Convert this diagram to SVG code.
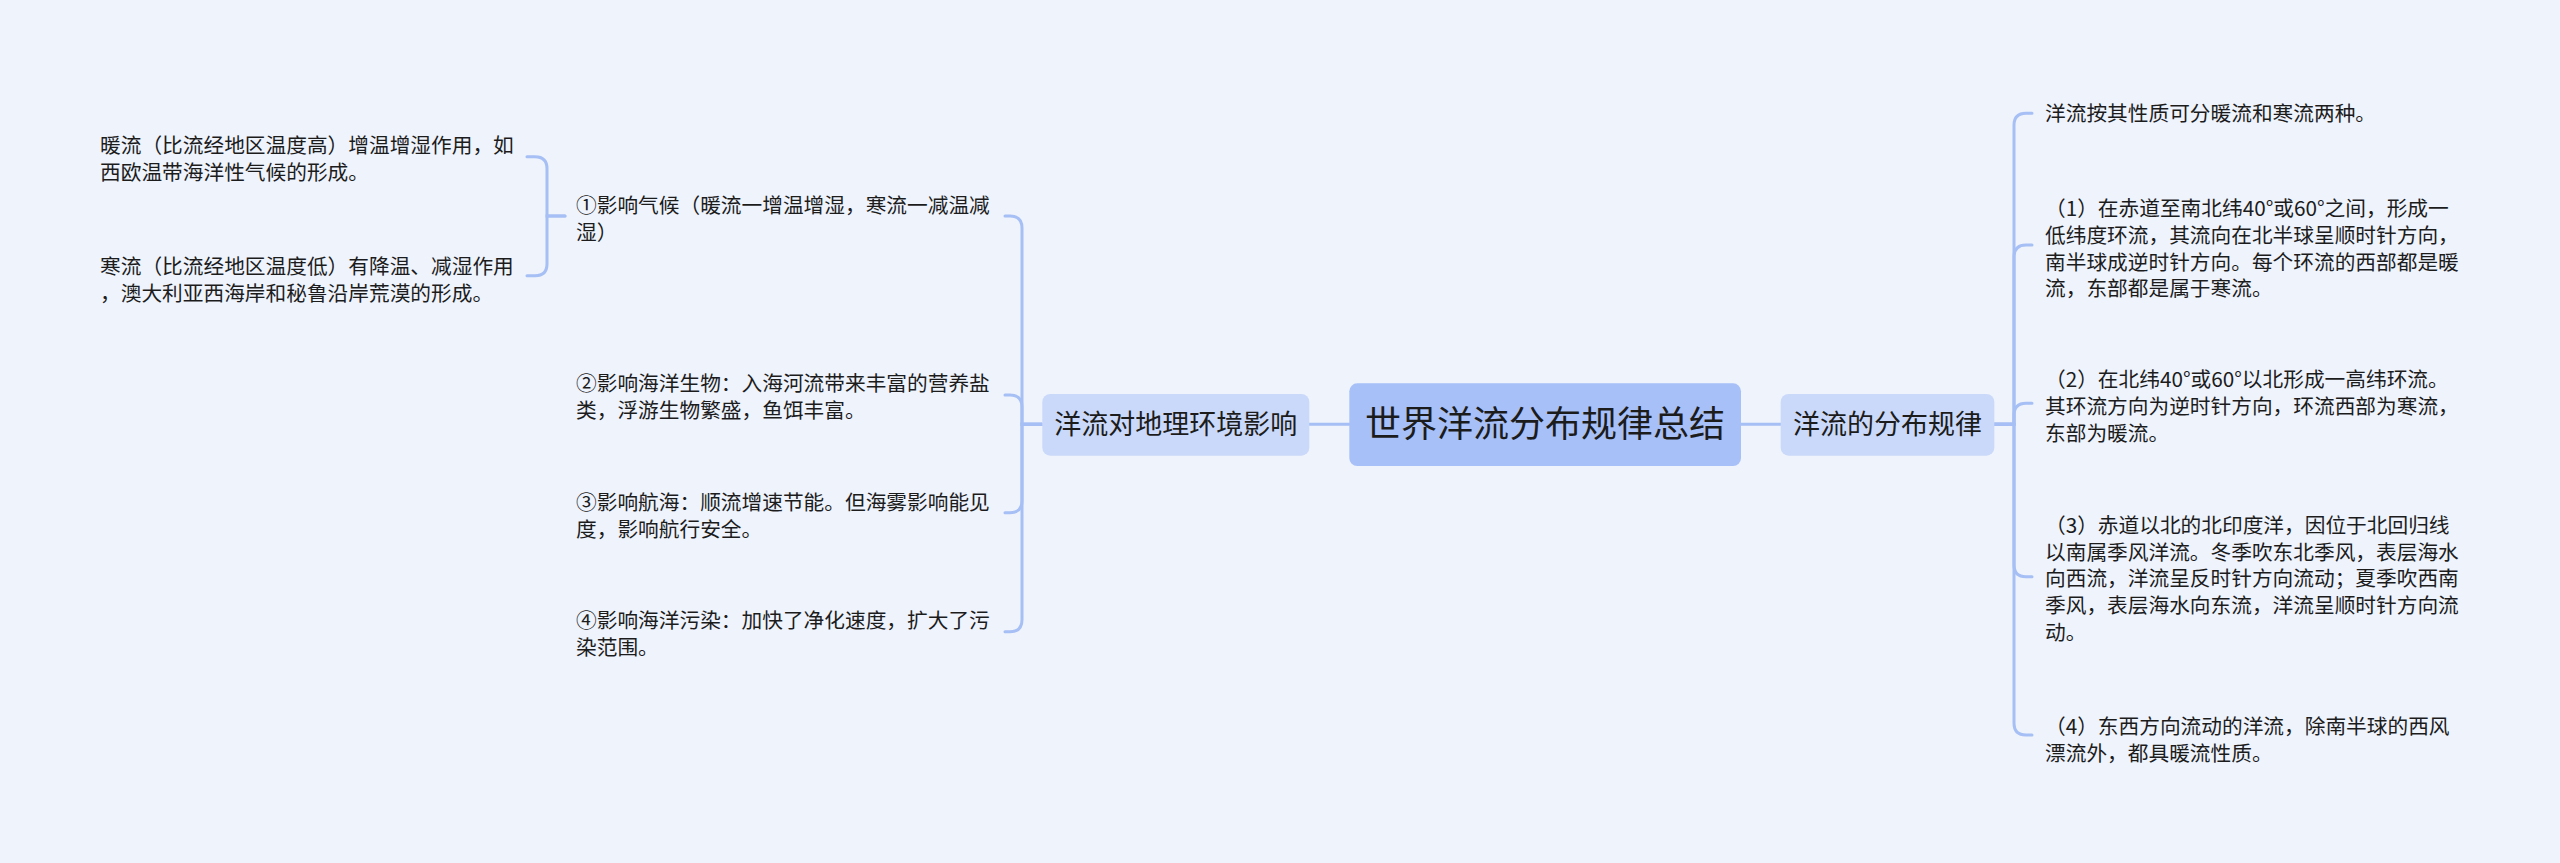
<svg xmlns="http://www.w3.org/2000/svg" width="2560" height="863" viewBox="0 0 2560 863">
<style>
.t{font-family:"Noto Sans CJK SC","Noto Sans",sans-serif;fill:#1c1c1c;font-size:20.7px}
.sub{font-family:"Noto Sans CJK SC","Noto Sans",sans-serif;fill:#1c1c1c;font-size:27px}
.root{font-family:"Noto Sans CJK SC","Noto Sans",sans-serif;fill:#1c1c1c;font-size:36px}
.c{fill:none;stroke:#a6bff4;stroke-width:3;stroke-linecap:round}
</style>
<rect width="2560" height="863" fill="#eef3fc"/>
<g id="connectors">
<path class="c" d="M1309,424.3 H1349"/>
<path class="c" d="M1741,424.3 H1780.7"/>
<path class="c" d="M1042,424.3 H1022 V228 Q1022,216 1010,216 H1005"/>
<path class="c" d="M1042,424.3 H1022 V407 Q1022,395 1010,395 H1005"/>
<path class="c" d="M1042,424.3 H1022 V500.7 Q1022,512.7 1010,512.7 H1005"/>
<path class="c" d="M1042,424.3 H1022 V619.7 Q1022,631.7 1010,631.7 H1005"/>
<path class="c" d="M565,216 H547 V168.7 Q547,156.7 535,156.7 H527"/>
<path class="c" d="M565,216 H547 V263.7 Q547,275.7 535,275.7 H527"/>
<path class="c" d="M1994.3,424.3 H2014 V125.3 Q2014,113.3 2026,113.3 H2032"/>
<path class="c" d="M1994.3,424.3 H2014 V257 Q2014,245 2026,245 H2032"/>
<path class="c" d="M1994.3,424.3 H2014 V415.3 Q2014,403.3 2026,403.3 H2032"/>
<path class="c" d="M1994.3,424.3 H2014 V564.7 Q2014,576.7 2026,576.7 H2032"/>
<path class="c" d="M1994.3,424.3 H2014 V723 Q2014,735 2026,735 H2032"/>
</g>
<g id="root">
<rect x="1349.3" y="383.3" width="391.7" height="82.7" rx="8" fill="#a7c0f8"/>
<text class="root" x="1545" y="437" text-anchor="middle">世界洋流分布规律总结</text>
</g>
<g id="left-main">
<rect x="1042.3" y="394" width="267" height="61.7" rx="8" fill="#cad9f9"/>
<text class="sub" x="1175.8" y="434" text-anchor="middle">洋流对地理环境影响</text>
</g>
<g id="right-main">
<rect x="1780.7" y="394" width="213.6" height="61.7" rx="8" fill="#cad9f9"/>
<text class="sub" x="1887.5" y="434" text-anchor="middle">洋流的分布规律</text>
</g>
<g id="warm">
<text class="t" x="100" y="153">暖流（比流经地区温度高）增温增湿作用，如</text>
<text class="t" x="100" y="179.5">西欧温带海洋性气候的形成。</text>
</g>
<g id="cold">
<text class="t" x="100" y="273.5">寒流（比流经地区温度低）有降温、减湿作用</text>
<text class="t" x="100" y="300.5">，澳大利亚西海岸和秘鲁沿岸荒漠的形成。</text>
</g>
<g id="climate">
<text class="t" x="576" y="213">①影响气候（暖流一增温增湿，寒流一减温减</text>
<text class="t" x="576" y="239.5">湿）</text>
</g>
<g id="bio">
<text class="t" x="576" y="390.5">②影响海洋生物：入海河流带来丰富的营养盐</text>
<text class="t" x="576" y="417.5">类，浮游生物繁盛，鱼饵丰富。</text>
</g>
<g id="nav">
<text class="t" x="576" y="509.5">③影响航海：顺流增速节能。但海雾影响能见</text>
<text class="t" x="576" y="536.5">度，影响航行安全。</text>
</g>
<g id="pollution">
<text class="t" x="576" y="628">④影响海洋污染：加快了净化速度，扩大了污</text>
<text class="t" x="576" y="654.5">染范围。</text>
</g>
<g id="types">
<text class="t" x="2045" y="121">洋流按其性质可分暖流和寒流两种。</text>
</g>
<g id="rule1">
<text class="t" x="2045" y="216">（1）在赤道至南北纬40°或60°之间，形成一</text>
<text class="t" x="2045" y="243">低纬度环流，其流向在北半球呈顺时针方向，</text>
<text class="t" x="2045" y="269.5">南半球成逆时针方向。每个环流的西部都是暖</text>
<text class="t" x="2045" y="296">流，东部都是属于寒流。</text>
</g>
<g id="rule2">
<text class="t" x="2045" y="387">（2）在北纬40°或60°以北形成一高纬环流。</text>
<text class="t" x="2045" y="414">其环流方向为逆时针方向，环流西部为寒流，</text>
<text class="t" x="2045" y="440.5">东部为暖流。</text>
</g>
<g id="rule3">
<text class="t" x="2045" y="533">（3）赤道以北的北印度洋，因位于北回归线</text>
<text class="t" x="2045" y="559.5">以南属季风洋流。冬季吹东北季风，表层海水</text>
<text class="t" x="2045" y="586">向西流，洋流呈反时针方向流动；夏季吹西南</text>
<text class="t" x="2045" y="613">季风，表层海水向东流，洋流呈顺时针方向流</text>
<text class="t" x="2045" y="639.5">动。</text>
</g>
<g id="rule4">
<text class="t" x="2045" y="734">（4）东西方向流动的洋流，除南半球的西风</text>
<text class="t" x="2045" y="760.5">漂流外，都具暖流性质。</text>
</g>
</svg>
